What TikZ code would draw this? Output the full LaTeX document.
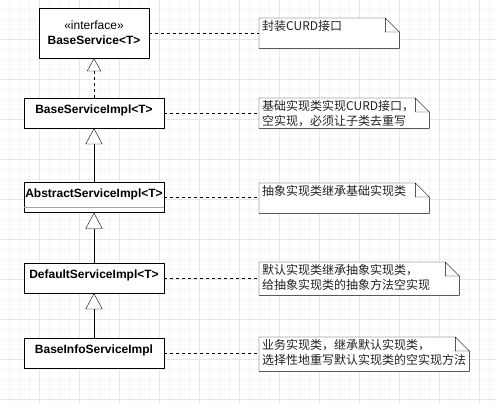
\documentclass[tikz,border=0pt]{standalone}
\usepackage{fontspec}
\setmainfont{Liberation Sans}
\newfontfamily\cjk{Noto Sans CJK SC}
\usetikzlibrary{arrows.meta, positioning}
\pgfdeclarelayer{grid}
\pgfdeclarelayer{background}
\pgfsetlayers{grid,background,main}
\definecolor{gridMajor}{HTML}{E6E6E6}
\definecolor{gridMinor}{HTML}{F5F5F5}
\definecolor{noteText}{HTML}{222222}

\begin{document}
\begin{tikzpicture}[x=1pt,y=-1pt,line width=1pt,
    umlbox/.style={draw,fill=white,inner sep=0pt,font=\fontsize{12pt}{15pt}\selectfont\bfseries},
    cls/.style={umlbox,minimum width=140pt,minimum height=30pt,text height=9pt,text depth=8pt},
    note/.style={minimum width=140pt,minimum height=30pt,inner sep=0pt,anchor=north west},
    notetext/.style={anchor=north west,align=left,inner sep=0pt,xshift=3pt,yshift=-2pt,
      text=noteText,font=\cjk\fontsize{12pt}{15pt}\selectfont},
    extends/.style={-{Triangle[length=16pt,width=17pt,fill=white]}},
    dashline/.style={dash pattern=on 3pt off 3pt}]
    \useasboundingbox (0,0) rectangle (496,403);
    % grid
    \begin{pgfonlayer}{grid}
        \fill[white] (0,0) rectangle (496,403);
        \foreach \i in {9,19,...,489} \draw[gridMinor] (\i,0) -- (\i,403);
        \foreach \i in {9,19,...,399} \draw[gridMinor] (0,\i) -- (496,\i);
        \foreach \i in {39,79,...,479} \draw[gridMajor] (\i,0) -- (\i,403);
        \foreach \i in {39,79,...,399} \draw[gridMajor] (0,\i) -- (496,\i);
    \end{pgfonlayer}

    % classes
    \node[umlbox,minimum width=110pt,minimum height=50pt,align=center](baseService)at(94,33)
        {{\mdseries «interface»}\\BaseService<T>};
    \node[cls](baseServiceImpl)at(94,113){BaseServiceImpl<T>};
    \node[cls](abstractImpl)at(94,197.5){AbstractServiceImpl<T>};
    \draw[gray!70]([yshift=5pt]abstractImpl.south west)--([yshift=5pt]abstractImpl.south east);
    \node[cls](defaultImpl)at(94,278){DefaultServiceImpl<T>};
    \node[cls](baseInfoImpl)at(94,353){BaseInfoServiceImpl};

    % notes
    \node[note,label={[notetext]north west:封装CURD接口}](nCurd)at(259,18){};
    \node[note,minimum width=170pt,label={[notetext]north west:{基础实现类实现CURD接口，\\空实现，必须让子类去重写}}]
        (nBase)at(259,98){};
    \node[note,minimum width=170pt,label={[notetext]north west:抽象实现类继承基础实现类}]
        (nAbstract)at(259,183){};
    \node[note,minimum width=200pt,minimum height=33pt,
        label={[notetext]north west:{默认实现类继承抽象实现类，\\给抽象实现类的抽象方法空实现}}](nDefault)at(259,262){};
    \node[note,minimum width=210pt,minimum height=34pt,
        label={[notetext]north west:{业务实现类，继承默认实现类，\\选择性地重写默认实现类的空实现方法}}](nInfo)at(259,337){};
    \begin{pgfonlayer}{background}
        \foreach \n in {nCurd,nBase,nAbstract,nDefault,nInfo}
            \draw[fill=white](\n.north west)--([xshift=-14pt]\n.north east)--([yshift=-14pt]\n.north east)
                --(\n.south east)--(\n.south west)--cycle
                ([xshift=-14pt]\n.north east)--([xshift=-14pt,yshift=-14pt]\n.north east)--([yshift=-14pt]\n.north east);
    \end{pgfonlayer}

    % inheritance
    \draw[dashline,-{Triangle[length=13pt,width=14pt,fill=white]}](baseServiceImpl)--(baseService);
    \draw[extends](abstractImpl)--(baseServiceImpl);
    \draw[extends](defaultImpl)--(abstractImpl);
    \draw[extends](baseInfoImpl)--(defaultImpl);

    % note links
    \foreach \c/\n in {baseService/nCurd,baseServiceImpl/nBase,abstractImpl/nAbstract,
        defaultImpl/nDefault,baseInfoImpl/nInfo}
        \draw[dashline](\c.east)--(\c.east-|\n.west);
\end{tikzpicture}
\end{document}
